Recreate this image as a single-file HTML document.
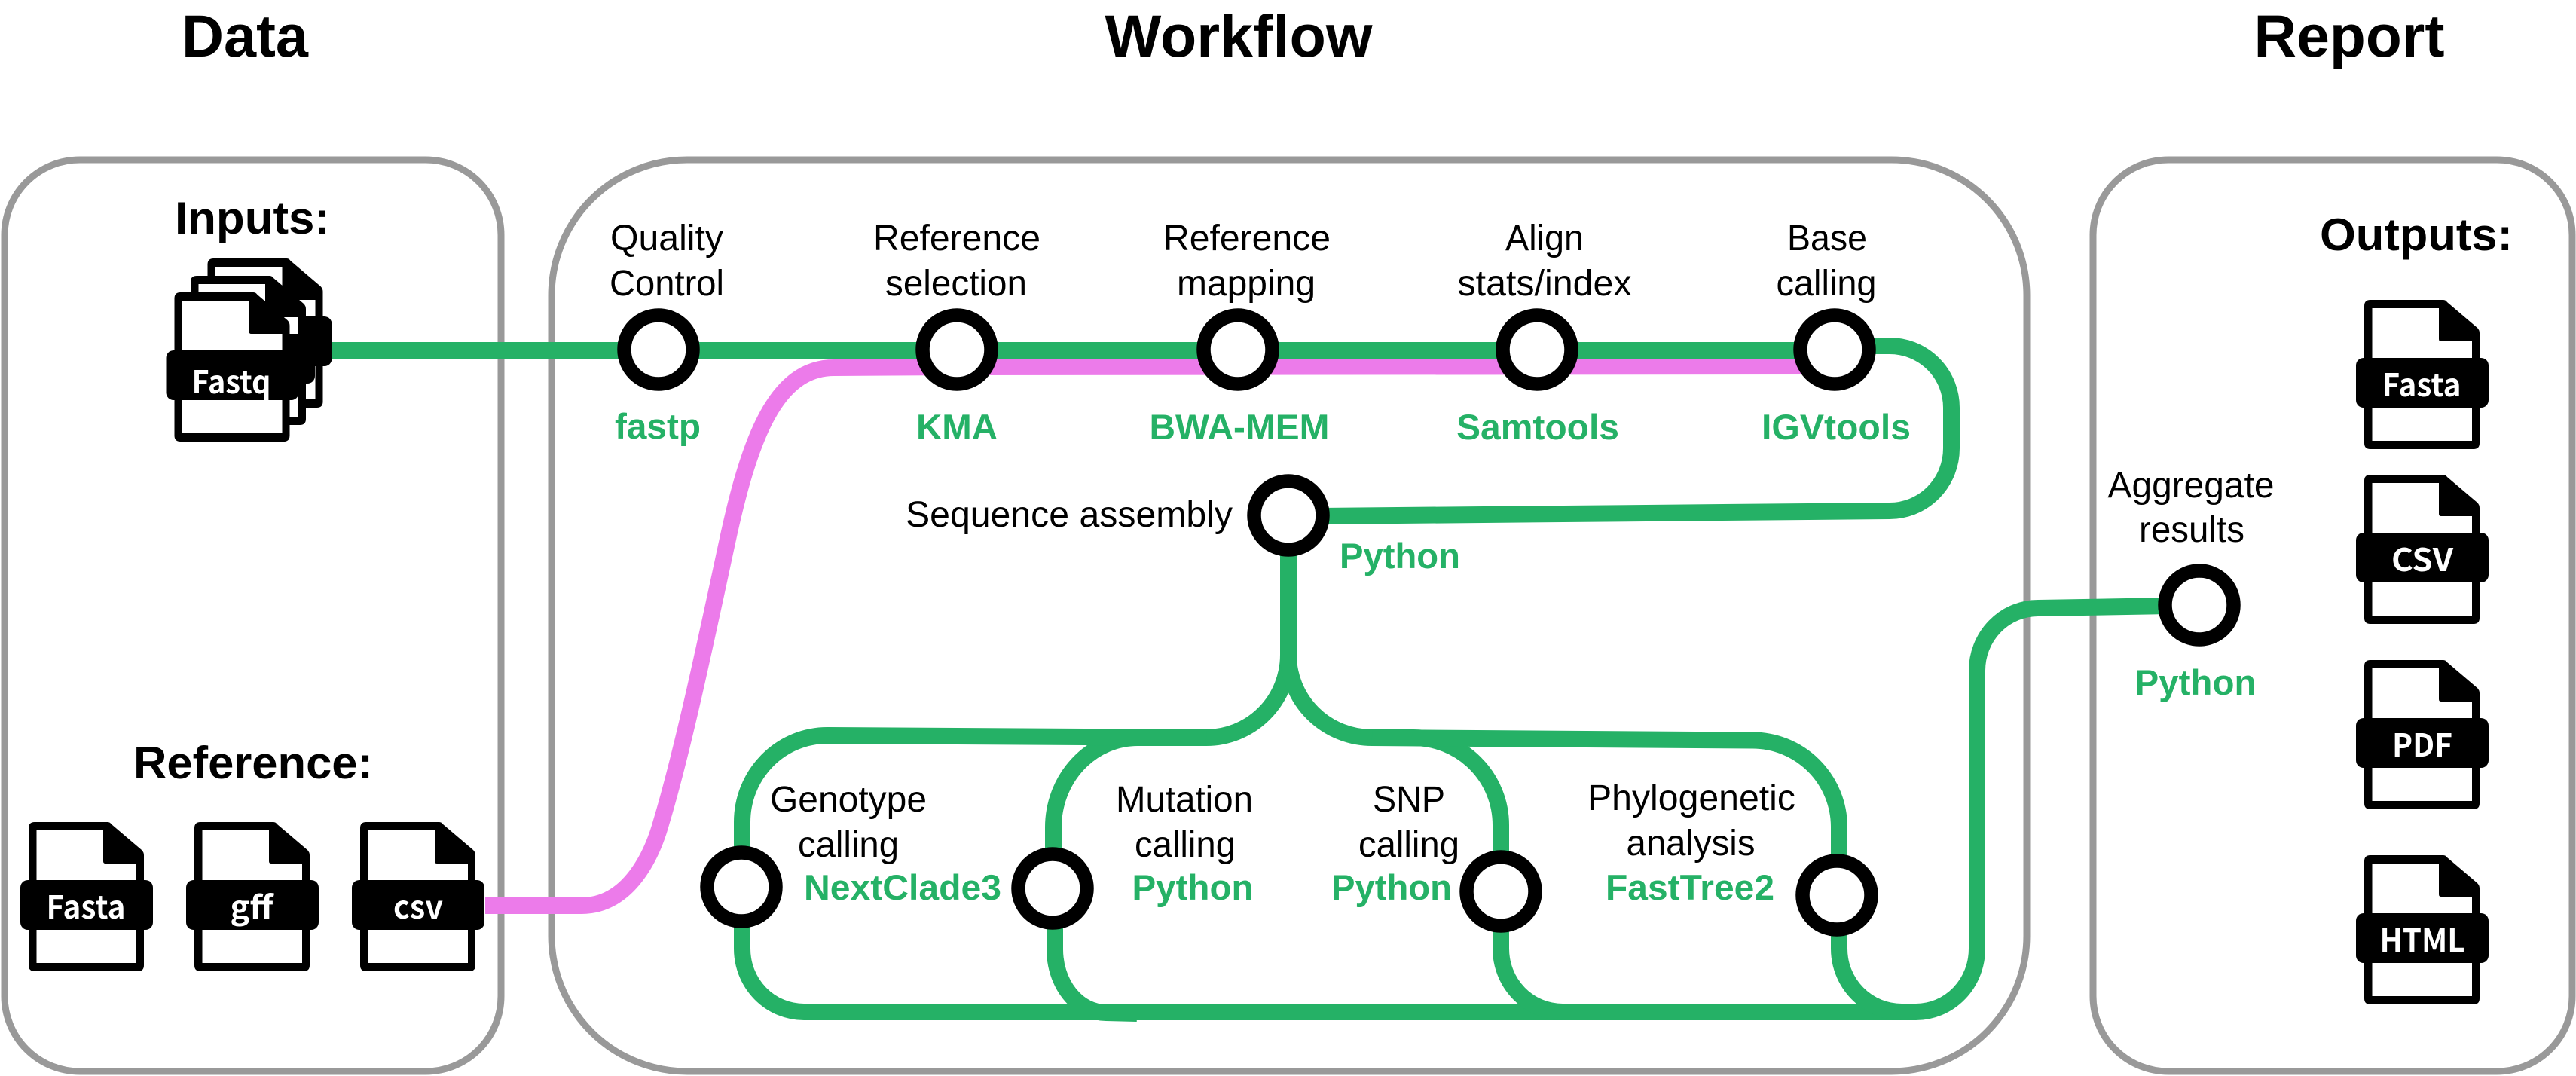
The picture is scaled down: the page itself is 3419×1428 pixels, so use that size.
<!DOCTYPE html>
<html><head><meta charset="utf-8"><title>Workflow diagram</title>
<style>
html,body{margin:0;padding:0;background:#fff;}
svg{display:block;}
text{font-family:"Liberation Sans",Arial,sans-serif;}
.t{font-size:48px;fill:#000;text-anchor:middle;}
.g{font-size:47px;font-weight:bold;fill:#25b166;text-anchor:middle;}
.h{font-size:79px;font-weight:bold;fill:#000;text-anchor:middle;}
.s{font-size:60px;font-weight:bold;fill:#000;text-anchor:middle;}
.f{font-family:"Noto Sans CJK JP","DejaVu Sans",sans-serif;font-size:42px;font-weight:bold;fill:#fff;text-anchor:middle;}
.box{fill:none;stroke:#999;stroke-width:9;}
.gl{fill:none;stroke:#25b166;stroke-width:22;}
.n{fill:#fff;stroke:#000;stroke-width:18.5;}
</style></head><body>
<svg width="3419" height="1428" viewBox="0 0 3419 1428" xmlns="http://www.w3.org/2000/svg">
<defs>
<g id="doc">
<path fill="#000" d="M8 0H105Q108 0 110 3L150 37Q153 40 153 44V190Q153 198 145 198H8Q0 198 0 190V8Q0 0 8 0Z"/>
<path fill="#fff" d="M10.5 11H99V52Q99 55 102 55H143V187H10.5Z"/>
<rect x="-11" y="77" width="176" height="66" rx="10" fill="#000"/>
</g>
</defs>

<rect class="box" x="6" y="212" width="659" height="1210" rx="100"/>
<rect class="box" x="732" y="212" width="1958" height="1210" rx="180"/>
<rect class="box" x="2778" y="212" width="636" height="1210" rx="100"/>

<text class="h" x="325" y="75" textLength="168" lengthAdjust="spacingAndGlyphs">Data</text>
<text class="h" x="1644" y="75" textLength="355" lengthAdjust="spacingAndGlyphs">Workflow</text>
<text class="h" x="3118" y="75" textLength="253" lengthAdjust="spacingAndGlyphs">Report</text>
<text class="s" x="335" y="310" textLength="206" lengthAdjust="spacingAndGlyphs">Inputs:</text>
<text class="s" x="336" y="1033" textLength="318" lengthAdjust="spacingAndGlyphs">Reference:</text>
<text class="s" x="3207" y="332" textLength="256" lengthAdjust="spacingAndGlyphs">Outputs:</text>

<!-- pink line -->
<path fill="none" stroke="#ec7bea" stroke-width="22" d="M644 1202H772C835 1202 866 1134 878 1090C905 1000 935 860 965 720C995 580 1030 488 1107 488L1270 487L2400 486"/>

<!-- green lines -->
<path class="gl" d="M440 465H2400"/>
<path class="gl" d="M2470 459H2508A82 82 0 0 1 2590 541V595A82 83 0 0 1 2508 678L1750 685"/>
<path class="gl" d="M1710 730V869A109 110 0 0 1 1601 979H1510A112 119 0 0 0 1398 1098V1179"/>
<path class="gl" d="M1400 1179V1259A68 84 0 0 0 1468 1344L1509 1345"/>
<path class="gl" d="M1601 979L1098 976A113 115 0 0 0 985 1091V1259A82 84 0 0 0 1067 1343H2543A81 84 0 0 0 2624 1259V890A81 83 0 0 1 2705 807L2880 804"/>
<path class="gl" d="M1710 869A111 110 0 0 0 1821 979H1876A116 116 0 0 1 1992 1095V1259A82 84 0 0 0 2074 1343"/>
<path class="gl" d="M1821 979L2326 982.500A115 115 0 0 1 2441 1097V1259A83 84 0 0 0 2524 1343"/>

<!-- nodes -->
<circle class="n" cx="874" cy="464" r="45.500"/>
<circle class="n" cx="1270" cy="464" r="45.500"/>
<circle class="n" cx="1643" cy="464" r="45.500"/>
<circle class="n" cx="2040" cy="464" r="45.500"/>
<circle class="n" cx="2435" cy="464" r="45.500"/>
<circle class="n" cx="1710" cy="684" r="45.500"/>
<circle class="n" cx="984" cy="1177" r="45.500"/>
<circle class="n" cx="1397" cy="1179" r="45.500"/>
<circle class="n" cx="1992" cy="1183" r="45.500"/>
<circle class="n" cx="2438" cy="1188" r="45.500"/>
<circle class="n" cx="2919" cy="803" r="45.500"/>

<!-- step labels -->
<text class="t" x="885" y="332" textLength="150" lengthAdjust="spacingAndGlyphs">Quality</text>
<text class="t" x="885" y="392" textLength="152" lengthAdjust="spacingAndGlyphs">Control</text>
<text class="t" x="1270" y="332" textLength="222" lengthAdjust="spacingAndGlyphs">Reference</text>
<text class="t" x="1269" y="392" textLength="188" lengthAdjust="spacingAndGlyphs">selection</text>
<text class="t" x="1655" y="332" textLength="222" lengthAdjust="spacingAndGlyphs">Reference</text>
<text class="t" x="1654" y="392" textLength="184" lengthAdjust="spacingAndGlyphs">mapping</text>
<text class="t" x="2050" y="332" textLength="104" lengthAdjust="spacingAndGlyphs">Align</text>
<text class="t" x="2050" y="392" textLength="231" lengthAdjust="spacingAndGlyphs">stats/index</text>
<text class="t" x="2425" y="332" textLength="106" lengthAdjust="spacingAndGlyphs">Base</text>
<text class="t" x="2424" y="392" textLength="133" lengthAdjust="spacingAndGlyphs">calling</text>
<text class="t" x="1419" y="699" textLength="434" lengthAdjust="spacingAndGlyphs">Sequence assembly</text>
<text class="t" x="2908" y="660" textLength="221" lengthAdjust="spacingAndGlyphs">Aggregate</text>
<text class="t" x="2909" y="719" textLength="140" lengthAdjust="spacingAndGlyphs">results</text>
<text class="t" x="1126" y="1077" textLength="208" lengthAdjust="spacingAndGlyphs">Genotype</text>
<text class="t" x="1126" y="1137" textLength="134" lengthAdjust="spacingAndGlyphs">calling</text>
<text class="t" x="1572" y="1077" textLength="182" lengthAdjust="spacingAndGlyphs">Mutation</text>
<text class="t" x="1573" y="1137" textLength="134" lengthAdjust="spacingAndGlyphs">calling</text>
<text class="t" x="1870" y="1077" textLength="96" lengthAdjust="spacingAndGlyphs">SNP</text>
<text class="t" x="1870" y="1137" textLength="134" lengthAdjust="spacingAndGlyphs">calling</text>
<text class="t" x="2245" y="1075" textLength="276" lengthAdjust="spacingAndGlyphs">Phylogenetic</text>
<text class="t" x="2244" y="1135" textLength="171" lengthAdjust="spacingAndGlyphs">analysis</text>

<!-- tool labels -->
<text class="g" x="873" y="582" textLength="114" lengthAdjust="spacingAndGlyphs">fastp</text>
<text class="g" x="1270" y="583" textLength="108" lengthAdjust="spacingAndGlyphs">KMA</text>
<text class="g" x="1645" y="583" textLength="239" lengthAdjust="spacingAndGlyphs">BWA-MEM</text>
<text class="g" x="2041" y="583" textLength="216" lengthAdjust="spacingAndGlyphs">Samtools</text>
<text class="g" x="2437" y="583" textLength="198" lengthAdjust="spacingAndGlyphs">IGVtools</text>
<text class="g" x="1858" y="754" textLength="160" lengthAdjust="spacingAndGlyphs">Python</text>
<text class="g" x="2914" y="922" textLength="161" lengthAdjust="spacingAndGlyphs">Python</text>
<text class="g" x="1198" y="1194" textLength="262" lengthAdjust="spacingAndGlyphs">NextClade3</text>
<text class="g" x="1583" y="1194" textLength="161" lengthAdjust="spacingAndGlyphs">Python</text>
<text class="g" x="1847" y="1194" textLength="160" lengthAdjust="spacingAndGlyphs">Python</text>
<text class="g" x="2243" y="1194" textLength="224" lengthAdjust="spacingAndGlyphs">FastTree2</text>

<!-- input stack -->
<use href="#doc" x="275.500" y="343"/>
<use href="#doc" x="253" y="366"/>
<use href="#doc" x="231.500" y="388"/>
<text class="f" x="307" y="522" textLength="105" lengthAdjust="spacingAndGlyphs">Fastq</text>

<!-- reference docs -->
<use href="#doc" x="38" y="1091"/>
<text class="f" x="114" y="1219" textLength="105" lengthAdjust="spacingAndGlyphs">Fasta</text>
<use href="#doc" x="258" y="1091"/>
<text class="f" x="334" y="1219" textLength="57" lengthAdjust="spacingAndGlyphs">gff</text>
<use href="#doc" x="478" y="1091"/>
<text class="f" x="555" y="1219" textLength="66" lengthAdjust="spacingAndGlyphs">csv</text>

<!-- output docs -->
<use href="#doc" x="3138" y="398"/>
<text class="f" x="3214" y="526" textLength="105" lengthAdjust="spacingAndGlyphs">Fasta</text>
<use href="#doc" x="3138" y="630"/>
<text class="f" x="3215" y="758" textLength="82" lengthAdjust="spacingAndGlyphs">CSV</text>
<use href="#doc" x="3138" y="876"/>
<text class="f" x="3215" y="1004" textLength="80" lengthAdjust="spacingAndGlyphs">PDF</text>
<use href="#doc" x="3138" y="1135"/>
<text class="f" x="3215" y="1263" textLength="113" lengthAdjust="spacingAndGlyphs">HTML</text>
</svg>
</body></html>
